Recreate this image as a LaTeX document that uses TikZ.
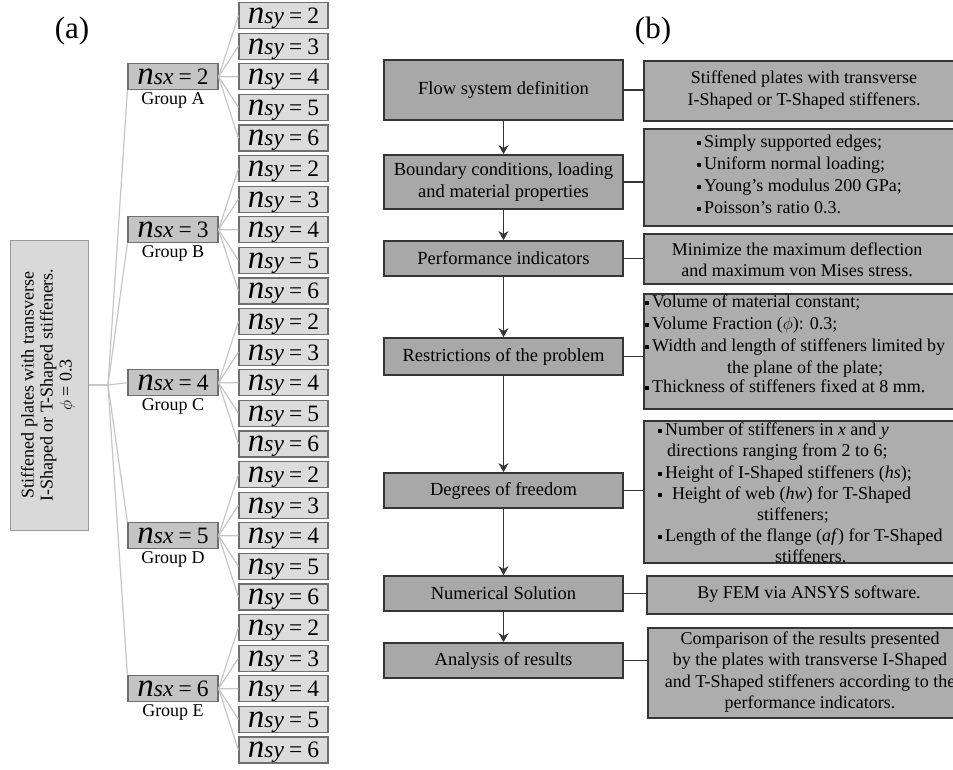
\documentclass[tikz,border=0pt]{standalone}
\usepackage{fontspec}
\setmainfont{Liberation Serif}
\usetikzlibrary{arrows.meta}
\definecolor{bd}{HTML}{353535}
\definecolor{lg}{HTML}{A8A8A8}
\definecolor{rg}{HTML}{ADADAD}
\definecolor{ag}{HTML}{D9D9D9}
\definecolor{xg}{HTML}{C4C4C4}
\definecolor{yg}{HTML}{DCDCDC}
\definecolor{ab}{HTML}{6F6F6F}
\definecolor{tl}{HTML}{C6C6C6}
\newcommand\sqb{\raisebox{2.5pt}{\rule{4pt}{4pt}}\hspace{3pt}}
\newcommand\nlab[2]{{\fontsize{33}{33}\selectfont\itshape n}{\itshape #1}\hspace{5pt}=\hspace{5pt}#2}
\begin{document}
\begin{tikzpicture}[x=1pt,y=-1pt,
 lbox/.style={draw=bd, line width=1.8pt, fill=lg, inner sep=0pt, minimum width=239pt, align=center, font=\fontsize{18.5}{22}\selectfont},
 rbox/.style={draw=bd, line width=1.8pt, fill=rg, inner sep=0pt, minimum width=312pt, anchor=north west},
 rtxt/.style={inner sep=0pt, font=\fontsize{18}{22}\selectfont},
 arr/.style={draw=bd, line width=1.4pt, -{Stealth[length=9pt,width=10pt]}},
 conn/.style={draw=bd, line width=1.5pt},
 rootbox/.style={draw=ab!70, line width=1pt, fill=ag},
 xbox/.style={draw=ab, line width=1.2pt, fill=xg, minimum width=90pt, minimum height=26pt, inner xsep=0pt, inner ysep=1pt, text height=20pt, text depth=4pt, font=\fontsize{23.5}{23.5}\selectfont},
 ybox/.style={xbox, fill=yg, minimum width=89pt},
 tline/.style={draw=tl, line width=1.2pt},
 grp/.style={font=\fontsize{18}{18}\selectfont, inner sep=0pt},
 lab/.style={font=\fontsize{31}{31}\selectfont, inner sep=0pt}
]
\useasboundingbox (0,0) rectangle (953,769);

% ---------------- (a) ----------------
\node[lab] (la) at (72,31) {(a)};
\node[rootbox, minimum width=78pt, minimum height=290pt] (root) at (49,385) {};
\node[rotate=90, align=center, font=\fontsize{18}{19}\selectfont, inner sep=0pt] (rt) at (48,385)
  {Stiffened plates with transverse\\I-Shaped or T-Shaped stiffeners.\\$\phi$ = 0.3};

\foreach \g/\L in {0/A,1/B,2/C,3/D,4/E} {
  \pgfmathsetmacro\yc{76.7+153*\g}
  \pgfmathtruncatemacro\nx{\g+2}
  \node[xbox] (x\g) at (173,\yc) {\nlab{sx}{\nx}};
  \node[grp] (gr\g) at (173,\yc+24) {Group \L};
  \foreach \j in {0,...,4} {
    \pgfmathsetmacro\yy{15.5+30.6*(5*\g+\j)}
    \pgfmathtruncatemacro\ny{\j+2}
    \node[ybox] (y\g\j) at (283.5,\yy) {\nlab{sy}{\ny}};
    \draw[tline] (x\g.east) -- (y\g\j.west);
  }
}
\coordinate (fork) at (108,385);
\draw[tline] (root.east) -- (fork);
\draw[tline] (fork) -- (x0.south west);
\draw[tline] (fork) -- (x1.south west);
\draw[tline] (fork) -- (x2.west);
\draw[tline] (fork) -- (x3.north west);
\draw[tline] (fork) -- (x4.north west);

% ---------------- (b) ----------------
\node[lab] (lb) at (653,31) {(b)};

\node[lbox, minimum height=60pt] (l1) at (503.5,90) {Flow system definition};
\node[lbox, minimum height=54pt] (l2) at (503.5,182) {Boundary conditions, loading\\and material properties};
\node[lbox, minimum height=35pt] (l3) at (503.5,258.5) {Performance indicators};
\node[lbox, minimum height=37pt] (l4) at (503.5,356.5) {Restrictions of the problem};
\node[lbox, minimum height=35pt] (l5) at (503.5,490.5) {Degrees of freedom};
\node[lbox, minimum height=35pt] (l6) at (503.5,593.5) {Numerical Solution};
\node[lbox, minimum height=35pt] (l7) at (503.5,660.5) {Analysis of results};

\node[rbox, minimum height=60pt] (r1) at (643,60) {};
\node[rbox, minimum height=97pt] (r2) at (643,128) {};
\node[rbox, minimum height=50pt] (r3) at (643,233) {};
\node[rbox, minimum height=115pt] (r4) at (643,293) {};
\node[rbox, minimum height=142pt] (r5) at (643,420) {};
\node[rbox, minimum height=38pt] (r6) at (646,575) {};
\node[rbox, minimum height=90pt] (r7) at (647,627) {};

\node[rtxt, align=center] (t1) at (804,90) {Stiffened plates with transverse\\I-Shaped or T-Shaped stiffeners.};
\node[rtxt, align=left, anchor=west] (t2) at (697,174) {\sqb Simply supported edges;\\\sqb Uniform normal loading;\\\sqb Young's modulus 200 GPa;\\\sqb Poisson's ratio 0.3.};
\node[rtxt, align=center, font=\fontsize{18}{21}\selectfont] (t3) at (797,259.5) {Minimize the maximum deflection\\and maximum von Mises stress.};
\node[rtxt, align=left, anchor=west] (t4) at (645,344) {\sqb Volume of material constant;\\
\sqb Volume Fraction ($\phi$): 0.3;\\
\sqb Width and length of stiffeners limited by\\
\hspace*{82pt}the plane of the plate;\\[-3pt]
\sqb Thickness of stiffeners fixed at 8 mm.};
\node[rtxt, align=left, anchor=west, font=\fontsize{18}{21.2}\selectfont] (t5) at (658,493) {\sqb Number of stiffeners in \textit{x} and \textit{y}\\
\hspace*{9pt}directions ranging from 2 to 6;\\
\sqb Height of I-Shaped stiffeners (\textit{hs});\\
\sqb\hspace{7pt}Height of web (\textit{hw}) for T-Shaped\\
\hspace*{99pt}stiffeners;\\
\sqb Length of the flange (\textit{af}) for T-Shaped\\
\hspace*{117pt}stiffeners.};
\node[rtxt] (t6) at (809,594) {By FEM via ANSYS software.};
\node[rtxt, align=center, font=\fontsize{18}{21.5}\selectfont] (t7) at (810,672) {Comparison of the results presented\\by the plates with transverse I-Shaped\\and T-Shaped stiffeners according to the\\performance indicators.};

\foreach \i in {1,...,7} {
  \draw[conn] (l\i.east) -- (l\i.east -| r\i.west);
}
\foreach \i/\k in {1/2,2/3,3/4,4/5,5/6,6/7} {
  \draw[arr] (l\i.south) -- (l\k.north);
}
\end{tikzpicture}
\end{document}
